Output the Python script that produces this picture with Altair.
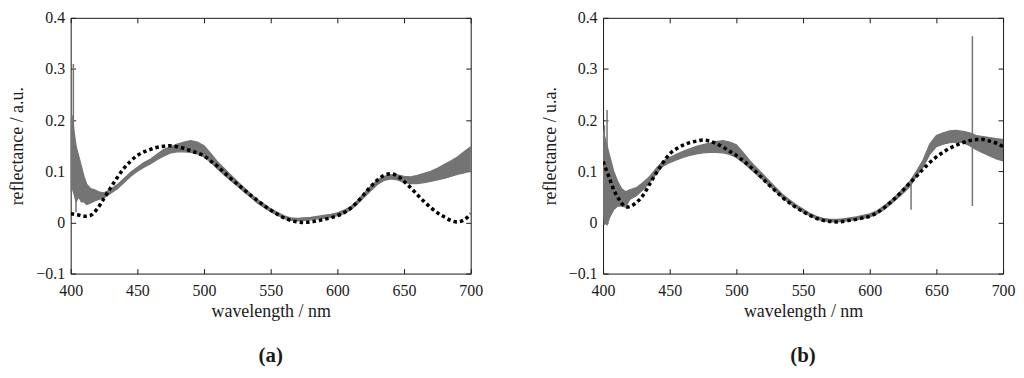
import altair as alt
import pandas as pd

# ---------------- data ----------------
# Panel (a): measured spectrum shown as a noisy band (lower / upper envelope)
wl_a = [400, 401, 403, 404, 406, 408, 410, 412, 415, 418, 421, 425, 430, 435, 440, 445,
        450, 455, 460, 465, 470, 475, 480, 485, 490, 495, 500, 505, 510, 515, 520, 525,
        530, 535, 540, 545, 550, 555, 560, 565, 570, 575, 580, 585, 590, 595, 600, 605,
        610, 615, 620, 625, 630, 635, 640, 645, 650, 655, 660, 665, 670, 675, 680, 685,
        690, 695, 700]
lo_a = [0.060, 0.070, 0.050, 0.040, 0.050, 0.040, 0.040, 0.035, 0.038, 0.042, 0.045, 0.048,
        0.057, 0.066, 0.078, 0.090, 0.100, 0.108, 0.115, 0.123, 0.130, 0.136, 0.138, 0.138,
        0.137, 0.134, 0.128, 0.118, 0.105, 0.093, 0.082, 0.071, 0.060, 0.049, 0.038, 0.029,
        0.021, 0.014, 0.008, 0.004, 0.003, 0.004, 0.005, 0.007, 0.008, 0.010, 0.013, 0.017,
        0.025, 0.036, 0.049, 0.062, 0.074, 0.082, 0.085, 0.083, 0.078, 0.076, 0.076, 0.078,
        0.080, 0.083, 0.086, 0.090, 0.094, 0.097, 0.100]
hi_a = [0.200, 0.210, 0.170, 0.150, 0.130, 0.110, 0.090, 0.075, 0.066, 0.064, 0.060, 0.058,
        0.065, 0.074, 0.086, 0.098, 0.108, 0.117, 0.124, 0.134, 0.143, 0.148, 0.153, 0.157,
        0.160, 0.157, 0.150, 0.135, 0.119, 0.106, 0.093, 0.080, 0.068, 0.056, 0.045, 0.036,
        0.027, 0.020, 0.013, 0.009, 0.008, 0.009, 0.010, 0.012, 0.014, 0.016, 0.019, 0.024,
        0.031, 0.043, 0.057, 0.071, 0.083, 0.090, 0.093, 0.093, 0.090, 0.089, 0.092, 0.096,
        0.100, 0.106, 0.113, 0.120, 0.128, 0.138, 0.148]
# Panel (a): isolated spikes of the measured spectrum
spike_wl_a = [402, 404]
spike_lo_a = [0.060, 0.020]
spike_hi_a = [0.310, 0.120]
# Panel (a): fitted spectrum (dotted)
fit_wl_a = [400, 405, 410, 415, 420, 425, 430, 435, 440, 445, 450, 455, 460, 465, 470, 475,
            480, 485, 490, 495, 500, 505, 510, 515, 520, 525, 530, 535, 540, 545, 550, 555,
            560, 565, 570, 575, 580, 585, 590, 595, 600, 605, 610, 615, 620, 625, 630, 635,
            640, 645, 650, 655, 660, 665, 670, 675, 680, 685, 690, 695, 700]
fit_a = [0.017, 0.015, 0.012, 0.014, 0.027, 0.047, 0.068, 0.088, 0.106, 0.120, 0.131, 0.138,
         0.143, 0.147, 0.149, 0.150, 0.148, 0.145, 0.140, 0.136, 0.130, 0.120, 0.110, 0.098,
         0.086, 0.075, 0.064, 0.053, 0.043, 0.033, 0.024, 0.016, 0.009, 0.004, 0.001, 0.000,
         0.001, 0.003, 0.006, 0.009, 0.013, 0.019, 0.028, 0.040, 0.055, 0.070, 0.083, 0.092,
         0.095, 0.091, 0.080, 0.068, 0.054, 0.041, 0.029, 0.019, 0.011, 0.004, 0.001, 0.005,
         0.017]

# Panel (b)
wl_b = [400, 401, 403, 405, 408, 411, 414, 417, 420, 425, 430, 435, 440, 445, 450, 455, 460,
        465, 470, 475, 480, 485, 490, 495, 500, 505, 510, 515, 520, 525, 530, 535, 540, 545,
        550, 555, 560, 565, 570, 575, 580, 585, 590, 595, 600, 605, 610, 615, 620, 625, 630,
        635, 640, 645, 650, 655, 660, 665, 670, 675, 680, 685, 690, 695, 700]
lo_b = [0.030, 0.000, -0.005, 0.010, 0.025, 0.032, 0.032, 0.030, 0.045, 0.052, 0.064, 0.078,
        0.095, 0.110, 0.117, 0.122, 0.127, 0.131, 0.134, 0.136, 0.137, 0.137, 0.136, 0.133,
        0.127, 0.117, 0.106, 0.094, 0.083, 0.071, 0.059, 0.047, 0.037, 0.028, 0.020, 0.013,
        0.007, 0.003, 0.001, 0.001, 0.002, 0.004, 0.005, 0.008, 0.011, 0.016, 0.024, 0.034,
        0.045, 0.057, 0.070, 0.090, 0.108, 0.133, 0.148, 0.153, 0.156, 0.157, 0.156, 0.150,
        0.142, 0.136, 0.130, 0.124, 0.120]
hi_b = [0.180, 0.170, 0.150, 0.130, 0.100, 0.080, 0.066, 0.060, 0.064, 0.068, 0.078, 0.090,
        0.106, 0.120, 0.127, 0.133, 0.139, 0.144, 0.149, 0.152, 0.155, 0.158, 0.160, 0.157,
        0.152, 0.137, 0.121, 0.107, 0.094, 0.080, 0.067, 0.054, 0.044, 0.034, 0.026, 0.018,
        0.012, 0.008, 0.006, 0.006, 0.007, 0.009, 0.011, 0.014, 0.017, 0.022, 0.031, 0.041,
        0.053, 0.066, 0.080, 0.100, 0.122, 0.153, 0.170, 0.175, 0.179, 0.180, 0.178, 0.175,
        0.170, 0.168, 0.166, 0.164, 0.162]
spike_wl_b = [401, 403, 631, 677]
spike_lo_b = [-0.005, 0.000, 0.025, 0.032]
spike_hi_b = [0.190, 0.220, 0.078, 0.364]
fit_wl_b = [400, 404, 408, 412, 416, 418, 420, 425, 430, 435, 440, 445, 450, 455, 460, 465,
            470, 475, 480, 485, 490, 495, 500, 505, 510, 515, 520, 525, 530, 535, 540, 545,
            550, 555, 560, 565, 570, 575, 580, 585, 590, 595, 600, 605, 610, 615, 620, 625,
            630, 635, 640, 645, 650, 655, 660, 665, 670, 675, 680, 685, 690, 695, 700]
fit_b = [0.119, 0.092, 0.064, 0.045, 0.032, 0.030, 0.031, 0.039, 0.053, 0.075, 0.097, 0.117,
         0.134, 0.144, 0.151, 0.156, 0.159, 0.161, 0.159, 0.154, 0.147, 0.139, 0.131, 0.121,
         0.110, 0.098, 0.085, 0.072, 0.060, 0.048, 0.038, 0.029, 0.021, 0.014, 0.008, 0.004,
         0.002, 0.001, 0.002, 0.004, 0.006, 0.009, 0.012, 0.018, 0.027, 0.038, 0.050, 0.063,
         0.077, 0.090, 0.104, 0.117, 0.128, 0.137, 0.145, 0.151, 0.156, 0.160, 0.162, 0.162,
         0.159, 0.155, 0.148]

x_ticks = [400, 450, 500, 550, 600, 650, 700]
y_ticks = [-0.1, 0.0, 0.1, 0.2, 0.3, 0.4]

# ---------------- styling ----------------
FONT = "Liberation Serif"
GRAY = "#747474"
INK = "#1a1a1a"
W, H = 402, 257


def panel(wl, lo, hi, swl, slo, shi, fwl, fy, ytitle, tag):
    band = pd.DataFrame({"wl": wl, "lo": lo, "hi": hi})
    spikes = pd.DataFrame({"wl": swl, "lo": slo, "hi": shi})
    fit = pd.DataFrame({"wl": fwl, "y": fy})

    xs = alt.Scale(domain=[400, 700], nice=False, zero=False)
    ys = alt.Scale(domain=[-0.1, 0.4], nice=False, zero=False)
    common = dict(ticks=False, domain=False, grid=True, gridColor=INK, gridWidth=1,
                  gridOpacity=1, labelFont=FONT, titleFont=FONT, labelFontSize=16,
                  titleFontSize=18, labelColor=INK, titleColor=INK,
                  titleFontWeight="normal", labelFlush=False)
    xax = alt.Axis(values=x_ticks, title="wavelength / nm",
                   gridDash=[5, H - 10, 5, 400], labelPadding=9, titlePadding=4,
                   format="d", **common)
    yax = alt.Axis(values=y_ticks, title=ytitle,
                   gridDash=[5, W - 10, 5, 600], labelPadding=6, titlePadding=9,
                   labelExpr="datum.value == 0 ? '0' : format(datum.value, '.1f')",
                   **common)

    area = alt.Chart(band).mark_area(color=GRAY, stroke=GRAY, strokeWidth=1.2,
                                     clip=True).encode(
        x=alt.X("wl:Q", scale=xs, axis=xax),
        y=alt.Y("lo:Q", scale=ys, axis=yax),
        y2="hi:Q",
    )
    rules = alt.Chart(spikes).mark_rule(color=GRAY, strokeWidth=1.5, clip=True).encode(
        x="wl:Q", y="lo:Q", y2="hi:Q"
    )
    line = alt.Chart(fit).mark_line(color="black", strokeWidth=3.5, strokeDash=[3.5, 3],
                                    interpolate="monotone", clip=True).encode(
        x="wl:Q", y="y:Q"
    )
    return alt.layer(area, rules, line).properties(
        width=W, height=H,
        title=alt.TitleParams(tag, orient="bottom", font=FONT, fontSize=21,
                              fontWeight="bold", offset=25, anchor="middle",
                              color=INK),
    )


pa = panel(wl_a, lo_a, hi_a, spike_wl_a, spike_lo_a, spike_hi_a, fit_wl_a, fit_a,
           "reflectance / a.u.", "(a)")
pb = panel(wl_b, lo_b, hi_b, spike_wl_b, spike_lo_b, spike_hi_b, fit_wl_b, fit_b,
           "reflectance / u.a.", "(b)")

chart = alt.hconcat(pa, pb, spacing=57).properties(
    padding={"left": 0, "top": 0, "right": 0, "bottom": 0},
    background="white",
).configure_view(
    stroke=INK, strokeWidth=1
)

chart.save("out.html", embed_options={"renderer": "svg", "actions": False})
